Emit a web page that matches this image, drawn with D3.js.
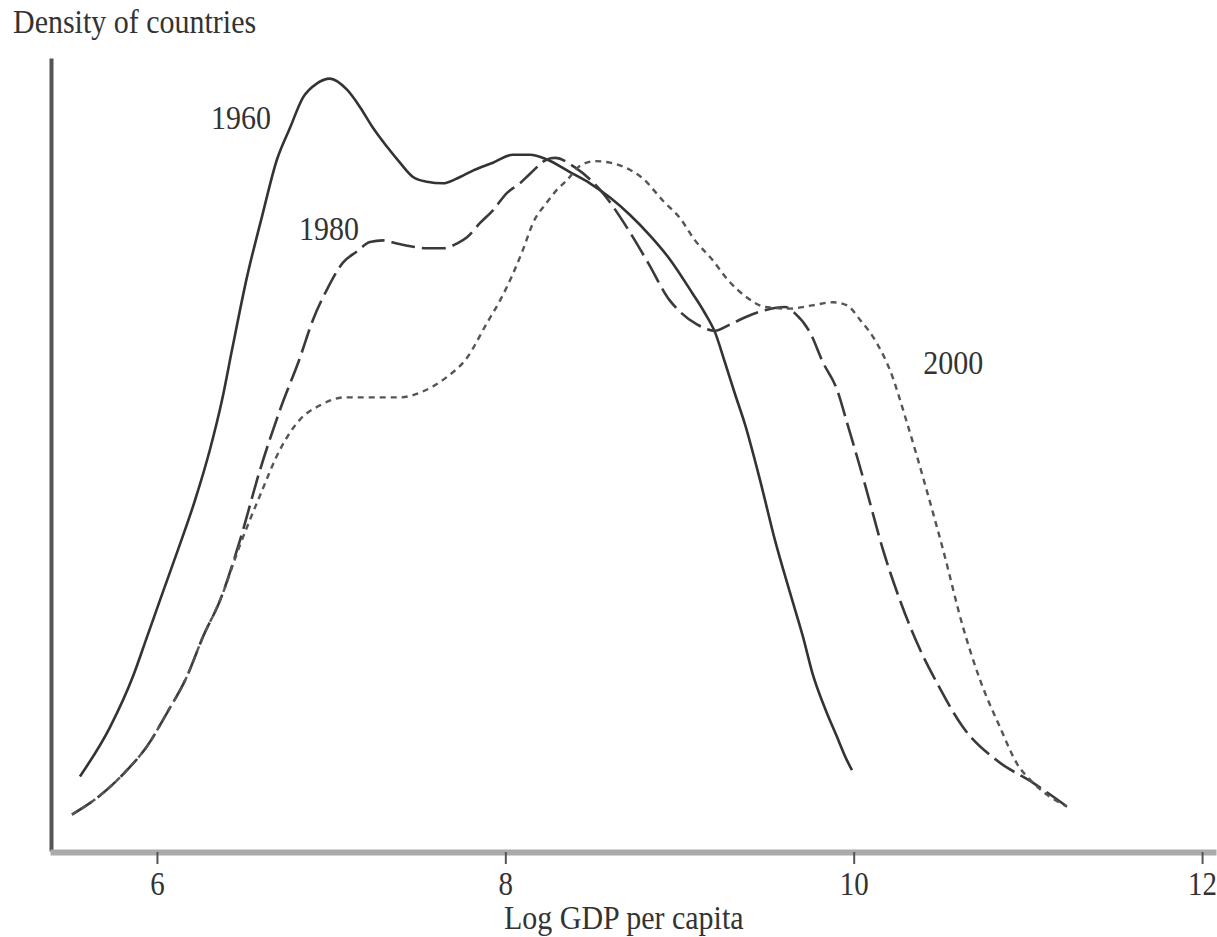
<!DOCTYPE html>
<html>
<head>
<meta charset="utf-8">
<script src="https://cdn.jsdelivr.net/npm/d3@7"></script>
<style>
  html, body { margin: 0; padding: 0; background: #fff; }
  svg { display: block; }
  text { font-family: "Liberation Serif", "DejaVu Serif", serif; fill: #333; }
</style>
</head>
<body>
<svg id="chart" width="1217" height="937"></svg>
<script>
// Kernel density of log GDP per capita across countries, three years.
const xTicks = [6, 8, 10, 12];
const yearLabels = ["1960", "1980", "2000"];

// [log GDP per capita, density]
const density1960 = [
  [5.558, 0.047], [5.730, 0.078], [5.862, 0.110], [5.943, 0.135], [6.017, 0.158],
  [6.121, 0.190], [6.218, 0.221], [6.304, 0.253], [6.373, 0.284], [6.431, 0.316],
  [6.517, 0.362], [6.603, 0.400], [6.689, 0.436], [6.764, 0.456], [6.838, 0.475],
  [6.919, 0.484], [6.993, 0.487], [7.091, 0.480], [7.166, 0.469], [7.240, 0.456],
  [7.321, 0.444], [7.395, 0.434], [7.470, 0.425], [7.550, 0.422], [7.642, 0.421],
  [7.722, 0.424], [7.814, 0.429], [7.929, 0.434], [8.044, 0.439], [8.142, 0.439],
  [8.239, 0.436], [8.371, 0.428], [8.486, 0.421], [8.601, 0.412], [8.716, 0.401],
  [8.831, 0.388], [8.945, 0.373], [9.072, 0.352], [9.141, 0.340], [9.204, 0.327],
  [9.261, 0.308], [9.319, 0.288], [9.376, 0.269], [9.462, 0.234], [9.548, 0.196],
  [9.634, 0.163], [9.709, 0.135], [9.766, 0.111], [9.835, 0.090], [9.904, 0.072],
  [9.962, 0.057], [9.990, 0.051]
];

const density1980 = [
  [5.512, 0.023], [5.673, 0.035], [5.828, 0.051], [5.943, 0.066], [6.057, 0.087],
  [6.172, 0.110], [6.264, 0.135], [6.362, 0.158], [6.477, 0.196], [6.591, 0.240],
  [6.706, 0.278], [6.821, 0.311], [6.896, 0.335], [6.976, 0.354], [7.068, 0.371],
  [7.148, 0.378], [7.223, 0.384], [7.298, 0.385], [7.378, 0.383], [7.470, 0.381],
  [7.550, 0.380], [7.642, 0.380], [7.722, 0.383], [7.780, 0.387], [7.855, 0.396],
  [7.929, 0.404], [8.010, 0.415], [8.084, 0.421], [8.142, 0.427], [8.239, 0.436],
  [8.285, 0.437], [8.400, 0.431], [8.543, 0.417], [8.716, 0.390], [8.819, 0.371],
  [8.945, 0.347], [9.003, 0.340], [9.100, 0.332], [9.204, 0.328], [9.290, 0.332],
  [9.388, 0.337], [9.491, 0.341], [9.606, 0.343], [9.663, 0.339], [9.749, 0.327],
  [9.824, 0.308], [9.904, 0.291], [9.962, 0.270], [10.065, 0.231], [10.168, 0.190],
  [10.266, 0.158], [10.381, 0.127], [10.478, 0.106], [10.628, 0.078], [10.823, 0.057],
  [11.030, 0.043], [11.225, 0.028]
];

const density2000 = [
  [5.512, 0.023], [5.673, 0.035], [5.828, 0.051], [5.943, 0.066], [6.057, 0.087],
  [6.172, 0.110], [6.264, 0.135], [6.362, 0.158], [6.477, 0.193], [6.591, 0.224],
  [6.706, 0.253], [6.821, 0.272], [6.936, 0.281], [7.079, 0.286], [7.223, 0.286],
  [7.395, 0.286], [7.510, 0.289], [7.654, 0.298], [7.780, 0.311], [7.895, 0.333],
  [7.969, 0.347], [8.044, 0.364], [8.101, 0.379], [8.159, 0.396], [8.239, 0.409],
  [8.297, 0.417], [8.354, 0.423], [8.429, 0.432], [8.515, 0.435], [8.601, 0.434],
  [8.687, 0.431], [8.790, 0.424], [8.905, 0.410], [9.003, 0.399], [9.089, 0.385],
  [9.187, 0.373], [9.278, 0.360], [9.387, 0.349], [9.491, 0.343], [9.634, 0.342],
  [9.761, 0.344], [9.881, 0.346], [9.962, 0.344], [10.036, 0.335], [10.134, 0.320],
  [10.209, 0.303], [10.306, 0.270], [10.410, 0.231], [10.513, 0.190], [10.628, 0.141],
  [10.725, 0.108], [10.840, 0.078], [10.938, 0.055], [11.030, 0.043], [11.225, 0.028]
];

const svg = d3.select("#chart");

const x = d3.scaleLinear().domain([5.386, 12.08]).range([50, 1216]);
const y = d3.scaleLinear().domain([0, 0.5]).range([851, 58]);

// Vertical axis: a plain line, no ticks
const yAxis = svg.append("g")
  .attr("transform", "translate(51,0)")
  .call(d3.axisLeft(y).tickValues([]).tickSizeOuter(0));
yAxis.select(".domain").attr("stroke", "#555").attr("stroke-width", 4);

// Horizontal axis
const xAxis = svg.append("g")
  .attr("transform", "translate(0,852)")
  .call(d3.axisBottom(x).tickValues(xTicks).tickSize(12).tickSizeOuter(0).tickFormat(d3.format("d")));
xAxis.select(".domain").attr("stroke", "#aaa").attr("stroke-width", 6);
xAxis.selectAll(".tick line").attr("stroke", "#555").attr("stroke-width", 2);
xAxis.selectAll(".tick text").remove();
xAxis.selectAll(".tick").append("text")
  .attr("text-anchor", "middle")
  .attr("transform", "translate(0,43) scale(1,1.18)")
  .style("font-size", "29px")
  .style("font-family", "'Liberation Serif', serif")
  .attr("fill", "#333")
  .text(d => d);

// Density curves
const line = d3.line()
  .x(d => x(d[0]))
  .y(d => y(d[1]))
  .curve(d3.curveMonotoneX);

const series = [
  { data: density1960, dash: null, color: "#333", width: 2.6 },
  { data: density1980, dash: "24,7", color: "#3a3a3a", width: 2.6 },
  { data: density2000, dash: "6,5", color: "#555", width: 2.4 }
];

svg.append("g").selectAll("path")
  .data(series)
  .join("path")
  .attr("d", s => line(s.data))
  .attr("fill", "none")
  .attr("stroke", s => s.color)
  .attr("stroke-width", s => s.width)
  .attr("stroke-dasharray", s => s.dash)
  .attr("stroke-linejoin", "round");

// Text helper: serif type, slightly tall
function label(txt, px, py, anchor) {
  svg.append("text")
    .attr("transform", `translate(${px},${py}) scale(1,1.15)`)
    .attr("text-anchor", anchor || "start")
    .style("font-size", "30px")
    .text(txt);
}

// Year labels next to their curves
label(yearLabels[0], x(6.31), y(0.455));
label(yearLabels[1], x(6.815), y(0.385));
label(yearLabels[2], x(10.40), y(0.301));

// Axis titles
label("Density of countries", 13, 33);
label("Log GDP per capita", x(8.68), 929, "middle");
</script>
</body>
</html>
